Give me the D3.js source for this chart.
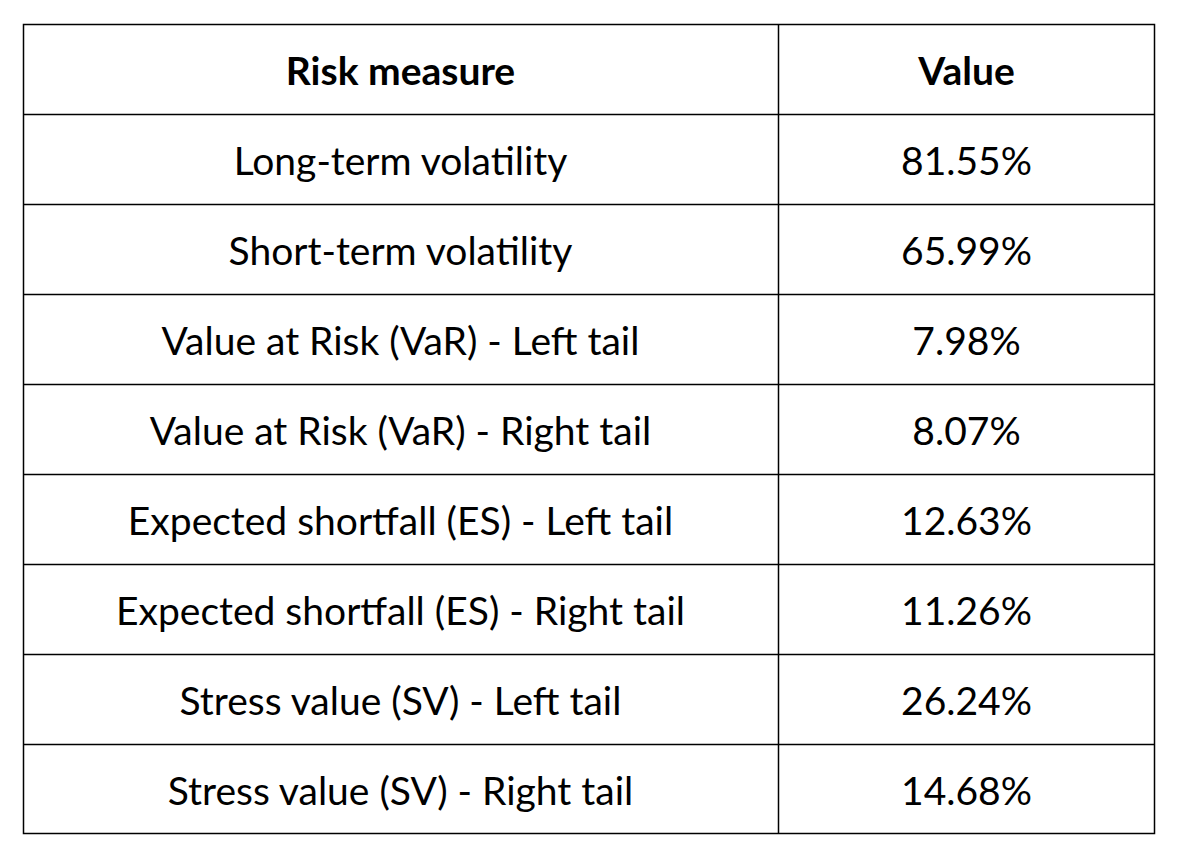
<!DOCTYPE html>
<html><head><meta charset="utf-8">
<script src="https://cdn.jsdelivr.net/npm/d3@7"></script>
<style>body{margin:0;background:#fff}</style>
</head><body>
<svg id="c" width="1182" height="861"></svg>
<script>
const headers = ["Risk measure", "Value"];
const measures = ["Long-term volatility","Short-term volatility","Value at Risk (VaR) - Left tail","Value at Risk (VaR) - Right tail","Expected shortfall (ES) - Left tail","Expected shortfall (ES) - Right tail","Stress value (SV) - Left tail","Stress value (SV) - Right tail"];
const values = ["81.55%","65.99%","7.98%","8.07%","12.63%","11.26%","26.24%","14.68%"];

const svg = d3.select("#c");
const tLeft = 23, tRight = 1155, tTop = 24, tBottom = 834, colX = 778;
const rows = [headers].concat(measures.map((m,i)=>[m, values[i]]));
const y = d3.scaleBand().domain(d3.range(rows.length)).range([tTop, tBottom]);
const x = d3.scaleOrdinal().domain([0,1]).range([(tLeft+colX)/2, (colX+tRight)/2]);
const font = "Lato, 'Open Sans', sans-serif";

const g = svg.append("g");
rows.forEach((r,i)=>{
  r.forEach((t,j)=>{
    g.append("text").attr("x", x(j)).attr("y", y(i)+y.bandwidth()/2 + 1)
     .attr("text-anchor","middle").attr("dominant-baseline","central")
     .attr("font-family", font).attr("font-size", 39)
     .attr("font-weight", i===0 ? "bold" : "normal").attr("fill","#000").text(t);
  });
});
d3.range(1, rows.length).forEach(i=>{
  svg.append("line").attr("x1",tLeft).attr("x2",tRight).attr("y1",Math.round(y(i))+0.5).attr("y2",Math.round(y(i))+0.5).attr("stroke","#000").attr("stroke-width",1.5);
});
svg.append("line").attr("x1",colX+0.5).attr("x2",colX+0.5).attr("y1",tTop).attr("y2",tBottom).attr("stroke","#000").attr("stroke-width",1.5);
svg.append("rect").attr("x",tLeft+0.5).attr("y",tTop+0.5).attr("width",tRight-tLeft-1).attr("height",tBottom-tTop-1).attr("fill","none").attr("stroke","#000").attr("stroke-width",1.5);
</script>
</body></html>
